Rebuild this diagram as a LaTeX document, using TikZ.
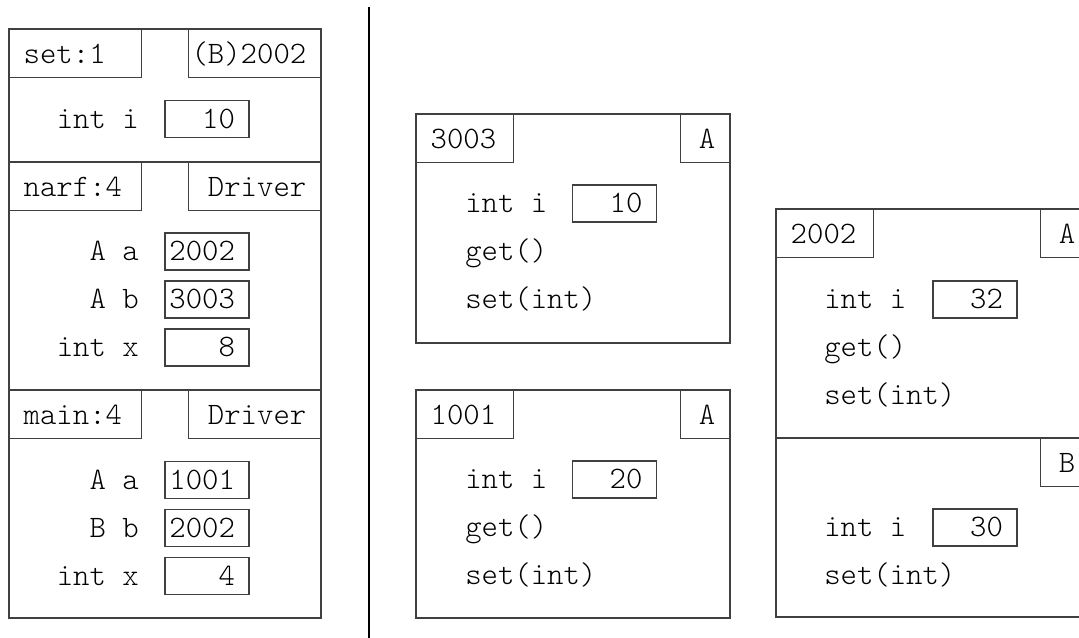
\documentclass[tikz,border=0pt]{standalone}
\usepackage{fontspec}
\setmonofont{Latin Modern Mono Light}
\usepackage{tikz}

\definecolor{boxline}{gray}{0.25}

% fixed-width text slots inside the boxes
\newcommand{\lslot}[2]{\makebox[#1][l]{#2}}
\newcommand{\rslot}[2]{\makebox[#1][r]{#2}}
\newcommand{\cellval}[1]{\makebox[42pt][r]{#1}}

\tikzset{
  code/.style={font=\ttfamily\fontsize{23.4}{27}\selectfont, inner sep=0pt,
    text height=14pt, text depth=0pt},
  box/.style={code, draw=boxline, line width=1.1pt},
  hdr/.style={box, minimum height=36pt},
  val/.style={box, minimum width=63pt, minimum height=27.5pt},
  frame/.style={draw=boxline, line width=1.1pt},
}

\begin{document}
\begin{tikzpicture}[x=0.75pt, y=-0.75pt]
  \useasboundingbox (0,0) rectangle (1079,638);
  \clip (0,0) rectangle (1079,638);

  % call stack
  \draw[frame] (9,29) rectangle (321,162);
  \draw[frame] (9,162) rectangle (321,390);
  \draw[frame] (9,390) rectangle (321,618);

  \node[hdr, minimum width=99pt, anchor=north west] (setname) at (9,29) {\lslot{78pt}{set:1}};
  \node[hdr, minimum width=99pt, anchor=north east] (setthis) at (321,29) {\rslot{78pt}{(B)2002}};
  \node[val] (seti) at (207,119) {\cellval{10}};
  \node[code, anchor=east] (setilbl) at (139,119) {int i};

  \node[hdr, minimum width=99pt, anchor=north west] (narfname) at (9,162) {\lslot{78pt}{narf:4}};
  \node[hdr, minimum width=99pt, anchor=north east] (narfcls) at (321,162) {\rslot{78pt}{Driver}};
  \node[val] (narfa) at (207,251.5) {\cellval{2002}};
  \node[val] (narfb) at (207,299.5) {\cellval{3003}};
  \node[val] (narfx) at (207,347.5) {\cellval{8}};
  \node[code, anchor=east] (narfalbl) at (139,251.5) {A a};
  \node[code, anchor=east] (narfblbl) at (139,299.5) {A b};
  \node[code, anchor=east] (narfxlbl) at (139,347.5) {int x};

  \node[hdr, minimum width=99pt, anchor=north west] (mainname) at (9,390) {\lslot{78pt}{main:4}};
  \node[hdr, minimum width=99pt, anchor=north east] (maincls) at (321,390) {\rslot{78pt}{Driver}};
  \node[val] (maina) at (207,480) {\cellval{1001}};
  \node[val] (mainb) at (207,528) {\cellval{2002}};
  \node[val] (mainx) at (207,576) {\cellval{4}};
  \node[code, anchor=east] (mainalbl) at (139,480) {A a};
  \node[code, anchor=east] (mainblbl) at (139,528) {B b};
  \node[code, anchor=east] (mainxlbl) at (139,576) {int x};

  % stack | heap
  \draw[line width=2pt] (369,7) -- (369,638);

  % heap object 3003
  \draw[frame] (416,114) rectangle (730,343);
  \node[hdr, minimum width=72.75pt, anchor=north west] (objc) at (416,114) {\lslot{51.75pt}{3003}};
  \node[hdr, minimum width=36.75pt, anchor=north east] (objccls) at (730,114) {\rslot{15.75pt}{A}};
  \node[val] (objci) at (614.5,203.5) {\cellval{10}};
  \node[code, anchor=west] (objcilbl) at (465,203.5) {int i};
  \node[code, anchor=west] (objcget) at (465,251) {get()};
  \node[code, anchor=west] (objcset) at (465,299) {set(int)};

  % heap object 1001
  \draw[frame] (416,390) rectangle (730,618);
  \node[hdr, minimum width=72.75pt, anchor=north west] (obja) at (416,390) {\lslot{51.75pt}{1001}};
  \node[hdr, minimum width=36.75pt, anchor=north east] (objacls) at (730,390) {\rslot{15.75pt}{A}};
  \node[val] (objai) at (614.5,479.5) {\cellval{20}};
  \node[code, anchor=west] (objailbl) at (465,479.5) {int i};
  \node[code, anchor=west] (objaget) at (465,527) {get()};
  \node[code, anchor=west] (objaset) at (465,575) {set(int)};

  % heap object 2002, A part on top of B part
  \draw[frame] (776,209) rectangle (1090,438);
  \draw[frame] (776,438) rectangle (1090,617);
  \node[hdr, minimum width=72.75pt, anchor=north west] (objb) at (776,209) {\lslot{51.75pt}{2002}};
  \node[hdr, minimum width=36.75pt, anchor=north east] (objbcls) at (1090,209) {\rslot{15.75pt}{A}};
  \node[val] (objbi) at (975,299.5) {\cellval{32}};
  \node[code, anchor=west] (objbilbl) at (824,299.5) {int i};
  \node[code, anchor=west] (objbget) at (824,347) {get()};
  \node[code, anchor=west] (objbset) at (824,395) {set(int)};
  \node[hdr, minimum width=36.75pt, anchor=north east] (objbsub) at (1090,438) {\rslot{15.75pt}{B}};
  \node[val] (objbj) at (975,527.5) {\cellval{30}};
  \node[code, anchor=west] (objbjlbl) at (824,527.5) {int i};
  \node[code, anchor=west] (objbjset) at (824,575.5) {set(int)};
\end{tikzpicture}
\end{document}
